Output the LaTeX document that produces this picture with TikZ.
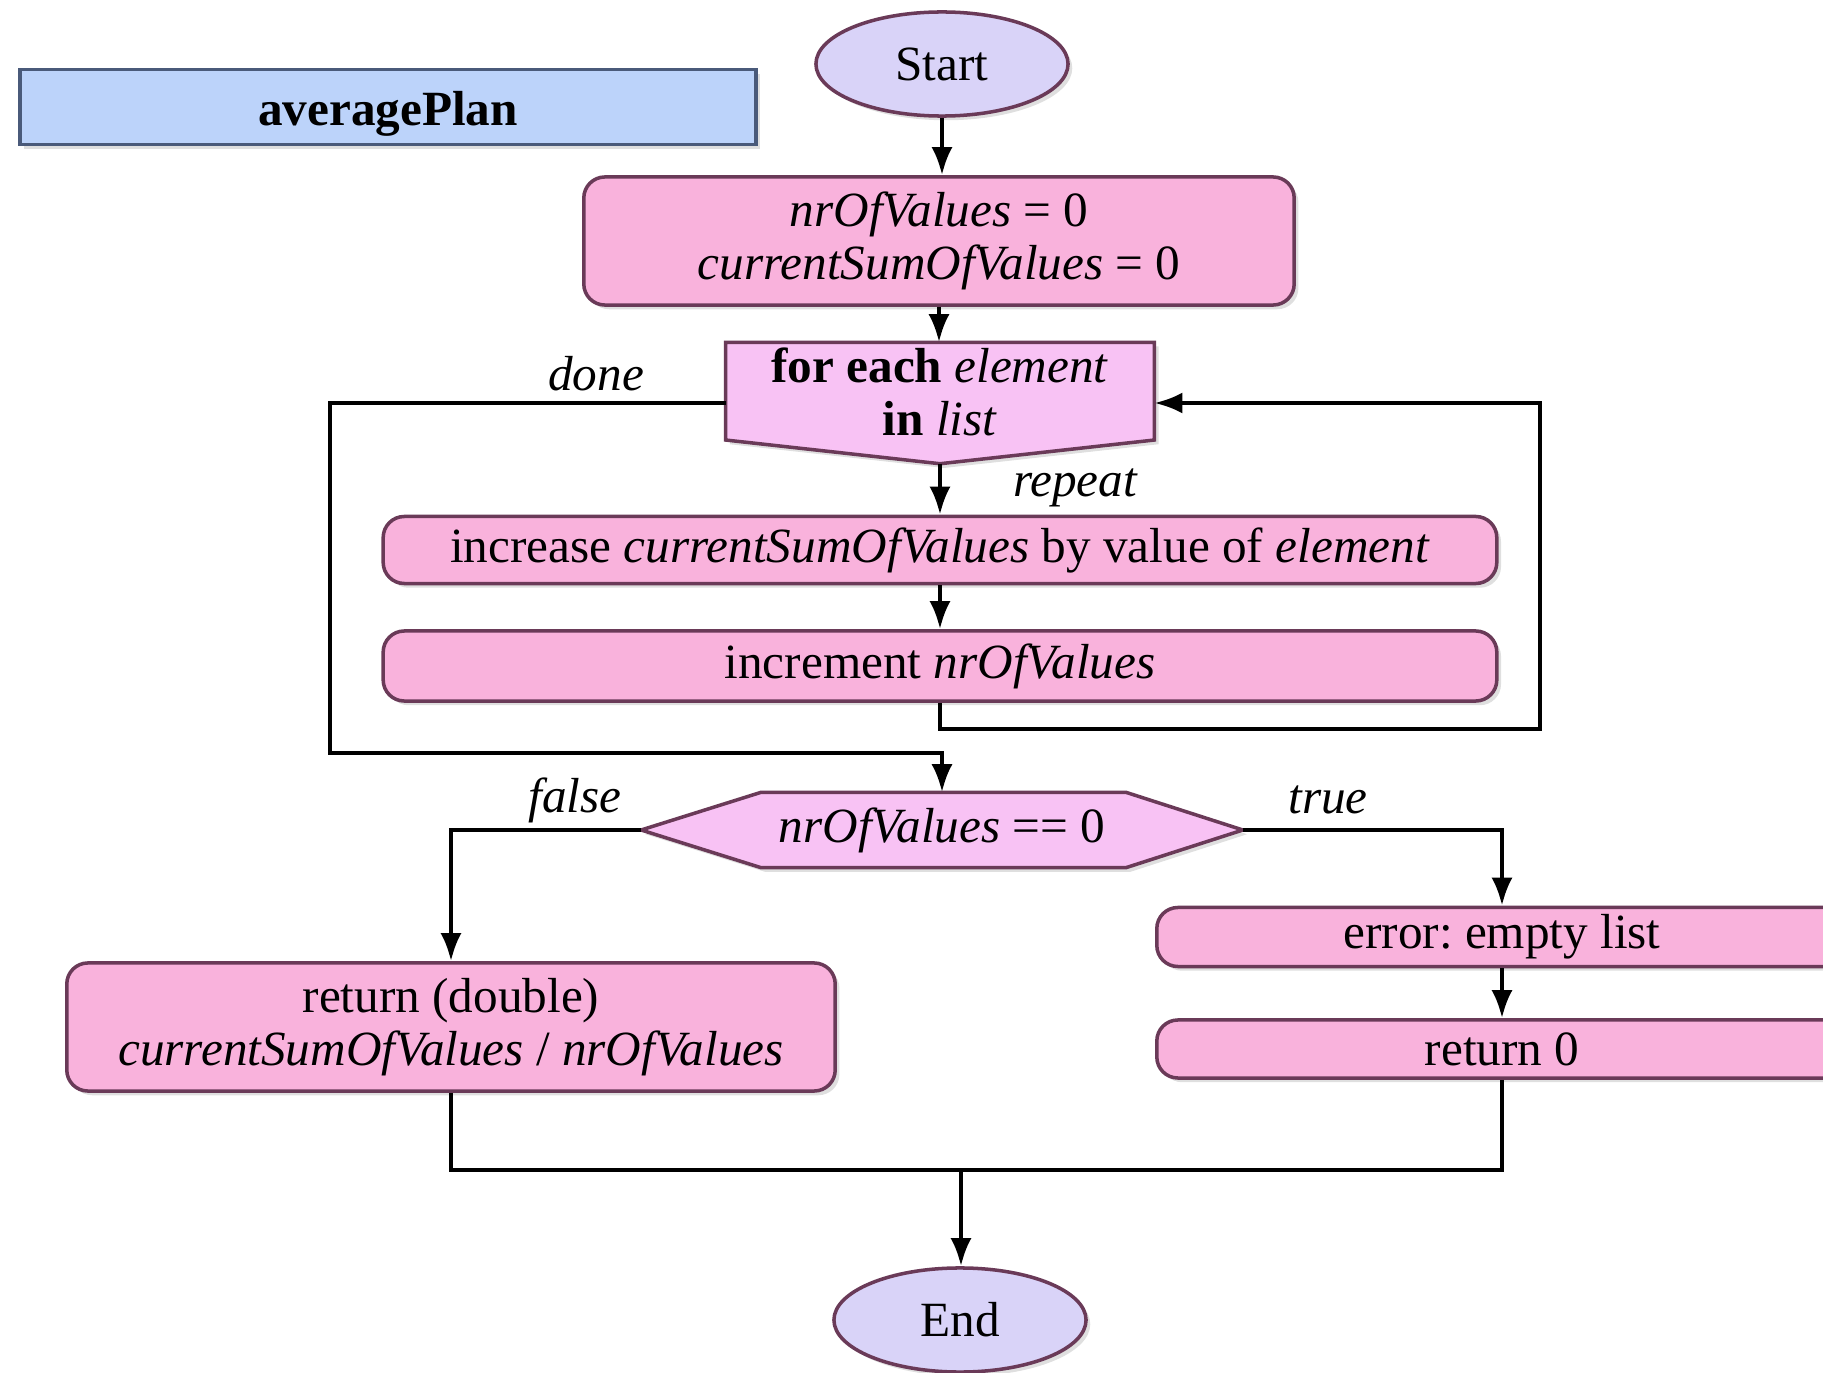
\documentclass[tikz,border=0pt]{standalone}
\usepackage{fontspec}
\setmainfont{Liberation Serif}
\usetikzlibrary{arrows.meta,shadows,shapes.geometric}
\definecolor{boxpink}{HTML}{F9B2DC}
\definecolor{decpink}{HTML}{F8C2F4}
\definecolor{lav}{HTML}{D9D3F8}
\definecolor{bluebox}{HTML}{BCD3FA}
\definecolor{edge}{HTML}{6A3A58}
\definecolor{blueedge}{HTML}{4A5A7A}
\frenchspacing
\begin{document}
\begin{tikzpicture}[x=0.01cm,y=-0.01cm,
  font=\fontsize{14}{15}\selectfont,
  shade/.style={drop shadow={opacity=0.25,shadow xshift=1.2pt,shadow yshift=-1.2pt}},
  proc/.style={draw=edge, line width=1pt, fill=boxpink, rounded corners=6pt,
    align=center, inner sep=0pt, shade},
  term/.style={ellipse, draw=edge, line width=1pt, fill=lav, inner sep=0pt, shade},
  ghost/.style={draw=none, inner sep=0pt},
  decis/.style={draw=edge, line width=1pt, fill=decpink, shade},
  conn/.style={line width=1.2pt, -{Latex[length=8pt,width=6pt]}},
  plain/.style={line width=1.2pt},
  lbl/.style={font=\fontsize{14}{15}\selectfont\itshape, inner sep=0pt}]
\useasboundingbox (0,0) rectangle (1823,1373);

% title
\node[draw=blueedge, line width=1pt, fill=bluebox, minimum width=7.36cm, minimum height=0.75cm, shade] (title) at (388,107) {};
\node[inner sep=0pt, font=\fontsize{14}{15}\selectfont\bfseries] (titletext) at ([yshift=-0.07cm]title.center) {averagePlan};

% terminals
\node[term, minimum width=2.52cm, minimum height=1.04cm] (start) at (942,64) {Start};
\node[term, minimum width=2.52cm, minimum height=1.04cm] (end) at (960,1320) {End};

% init
\node[proc, minimum width=7.10cm, minimum height=1.28cm] (init) at (939,241)
  {\textit{nrOfValues} = 0\\ \textit{currentSumOfValues} = 0};

% for each (pentagon)
\node[ghost, minimum width=4.27cm, minimum height=1.20cm] (fe) at (940,403) {};
\draw[decis] (fe.north west) -- (fe.north east) -- ([yshift=-0.37cm]fe.east)
  -- (fe.south) -- ([yshift=-0.37cm]fe.west) -- cycle;
\node[align=center, inner sep=0pt] (fetext) at ([yshift=0.11cm]fe.center)
  {\textbf{for each} \textit{element}\\ \textbf{in} \textit{list}};

% loop body
\node[proc, minimum width=11.13cm, minimum height=0.67cm] (increase) at (940,550)
  {increase \textit{currentSumOfValues} by value of \textit{element}};
\node[proc, minimum width=11.13cm, minimum height=0.70cm] (increment) at (940,666)
  {increment \textit{nrOfValues}};

% decision hexagon
\node[ghost, minimum width=6.00cm, minimum height=0.74cm] (hex) at (942,830) {};
\draw[decis] (hex.west) -- ([xshift=1.20cm]hex.north west) -- ([xshift=-1.17cm]hex.north east)
  -- (hex.east) -- ([xshift=-1.17cm]hex.south east) -- ([xshift=1.20cm]hex.south west) -- cycle;
\node[inner sep=0pt] (hextext) at (hex.center) {\textit{nrOfValues} == 0};

% branches
\node[proc, minimum width=7.68cm, minimum height=1.28cm] (ret) at (451,1027)
  {return (double)\\ \textit{currentSumOfValues} / \textit{nrOfValues}};
\node[proc, minimum width=6.90cm, minimum height=0.59cm] (error) at (1502,937) {error: empty list};
\node[proc, minimum width=6.90cm, minimum height=0.58cm] (ret0) at (1502,1049) {return 0};

% helper coordinates
\coordinate (loopR) at (1540,729);
\coordinate (loopL) at (330,753);
\coordinate (merge) at (961,1170);

% connectors
\draw[conn] (start.south) -- (start.south |- init.north);
\draw[conn] (init.south) -- (init.south |- fe.north);
\draw[conn] (fe.south) -- (fe.south |- increase.north);
\draw[conn] (increase) -- (increment);
\draw[conn] (increment.south) |- (loopR) |- (fe.east);
\draw[conn] (fe.west) -| (loopL) -| (hex.north);
\draw[conn] (hex.west) -| (ret.north);
\draw[conn] (hex.east) -| (error.north);
\draw[conn] (error) -- (ret0);
\draw[plain] (ret.south) |- (merge);
\draw[plain] (ret0.south) |- (merge);
\draw[conn] (merge) -- (merge |- end.north);

% labels
\node[lbl] (ldone) at (596,374) {done};
\node[lbl] (lrepeat) at (1075,488) {repeat};
\node[lbl] (lfalse) at (575,800) {false};
\node[lbl] (ltrue) at (1328,800) {true};
\end{tikzpicture}
\end{document}
